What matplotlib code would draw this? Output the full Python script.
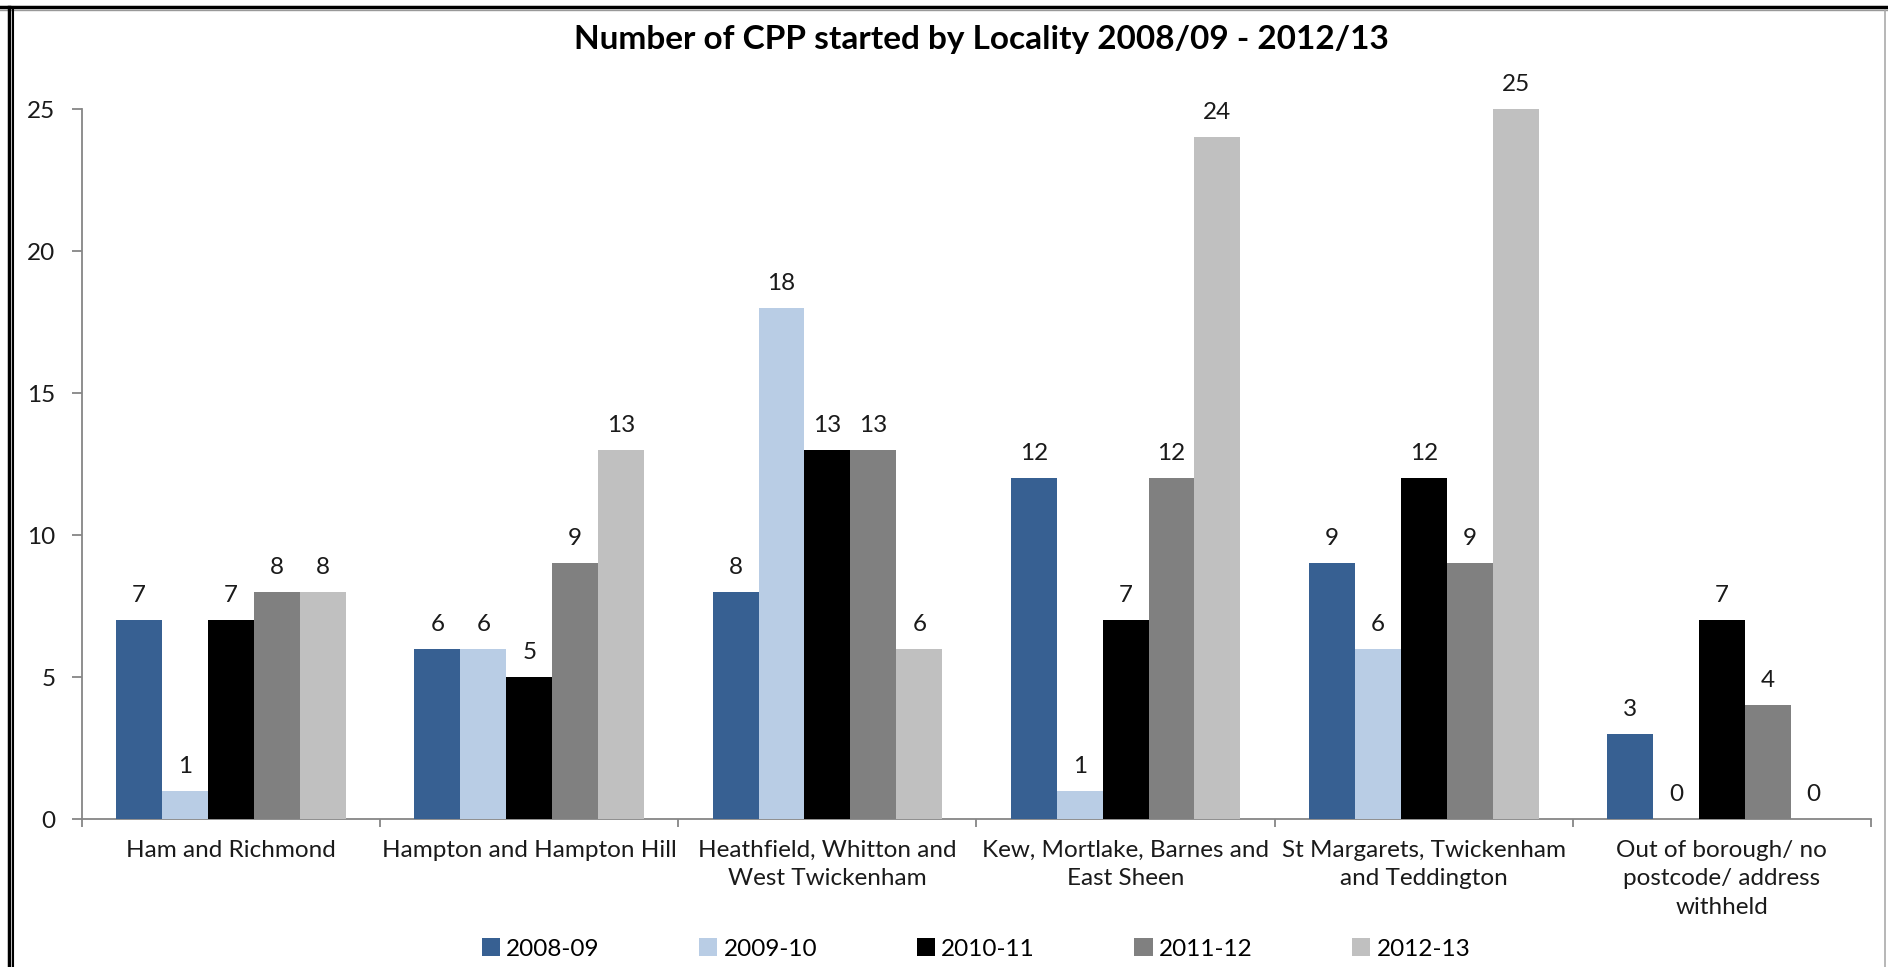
import numpy as np
import matplotlib
matplotlib.use("Agg")
import matplotlib.pyplot as plt
from matplotlib.lines import Line2D

plt.rcParams['font.family'] = ['Lato', 'DejaVu Sans']

localities = ["Ham and Richmond", "Hampton and Hampton Hill",
              "Heathfield, Whitton and\nWest Twickenham",
              "Kew, Mortlake, Barnes and\nEast Sheen",
              "St Margarets, Twickenham\nand Teddington",
              "Out of borough/ no\npostcode/ address\nwithheld"]
years = ["2008-09", "2009-10", "2010-11", "2011-12", "2012-13"]
v0809 = [7, 6, 8, 12, 9, 3]
v0910 = [1, 6, 18, 1, 6, 0]
v1011 = [7, 5, 13, 7, 12, 7]
v1112 = [8, 9, 13, 12, 9, 4]
v1213 = [8, 13, 6, 24, 25, 0]
colors = ['#376092', '#b9cde5', '#000000', '#808080', '#c0c0c0']

W, H = 1888, 967
fig = plt.figure(figsize=(W / 100, H / 100), dpi=100)
ax = fig.add_axes([82 / W, 1 - 819 / H, (1871 - 82) / W, (819 - 109) / H])

series = [v0809, v0910, v1011, v1112, v1213]
x = np.arange(len(localities)) + 0.5
bw = 0.154
handles = []
for i, vals in enumerate(series):
    pos = x + (i - 2) * bw
    b = ax.bar(pos, vals, width=bw, color=colors[i], label=years[i], zorder=3)
    handles.append(b)
    for p, v in zip(pos, vals):
        ax.annotate(str(v), (p, v), xytext=(0, 13), textcoords='offset points',
                    ha='center', va='baseline', fontsize=17.5, color='#1a1a1a')

ax.set_xlim(0, len(localities))
ax.set_ylim(0, 25)
ax.set_yticks(range(0, 26, 5))
ax.set_xticks(range(0, len(localities) + 1))
ax.set_xticklabels([])
ax.set_xticks(x, minor=True)
ax.set_xticklabels(localities, minor=True, fontsize=17.5, linespacing=1.45, color='#1a1a1a')
ax.tick_params(axis='x', which='minor', length=0, pad=15)
ax.tick_params(axis='x', which='major', length=6, width=1.3, color='#868686', direction='out')
ax.tick_params(axis='y', length=7, width=1.3, color='#868686', direction='out',
               labelsize=17.5, pad=12, labelcolor='#1a1a1a')
for s in ['top', 'right']:
    ax.spines[s].set_visible(False)
for s in ['left', 'bottom']:
    ax.spines[s].set_color('#868686')
    ax.spines[s].set_linewidth(1.3)

fig.text(981 / W, 1 - 39 / H, "Number of CPP started by Locality 2008/09 - 2012/13",
         ha='center', va='center', fontsize=24, fontweight='bold')

fig.legend(handles=handles, labels=years, loc='center', bbox_to_anchor=(976 / W, 1 - 949 / H),
           ncol=5, frameon=False, fontsize=17.5, handlelength=0.75, handleheight=0.75,
           handletextpad=0.25, columnspacing=4.1)

# outer frame like the original chart border
fig.add_artist(Line2D([0, 1], [1 - 7 / H, 1 - 7 / H], color='black', lw=2.5, transform=fig.transFigure))
fig.add_artist(Line2D([0, 1], [1 - 10 / H, 1 - 10 / H], color='#999999', lw=1, transform=fig.transFigure))
fig.add_artist(Line2D([9 / W, 9 / W], [0, 1 - 7 / H], color='black', lw=2.5, transform=fig.transFigure))
fig.add_artist(Line2D([13 / W, 13 / W], [0, 1 - 10 / H], color='black', lw=1.5, transform=fig.transFigure))
fig.add_artist(Line2D([1885 / W, 1885 / W], [0, 1 - 10 / H], color='#aaaaaa', lw=1.2, transform=fig.transFigure))

fig.savefig("out.png", dpi=100)
